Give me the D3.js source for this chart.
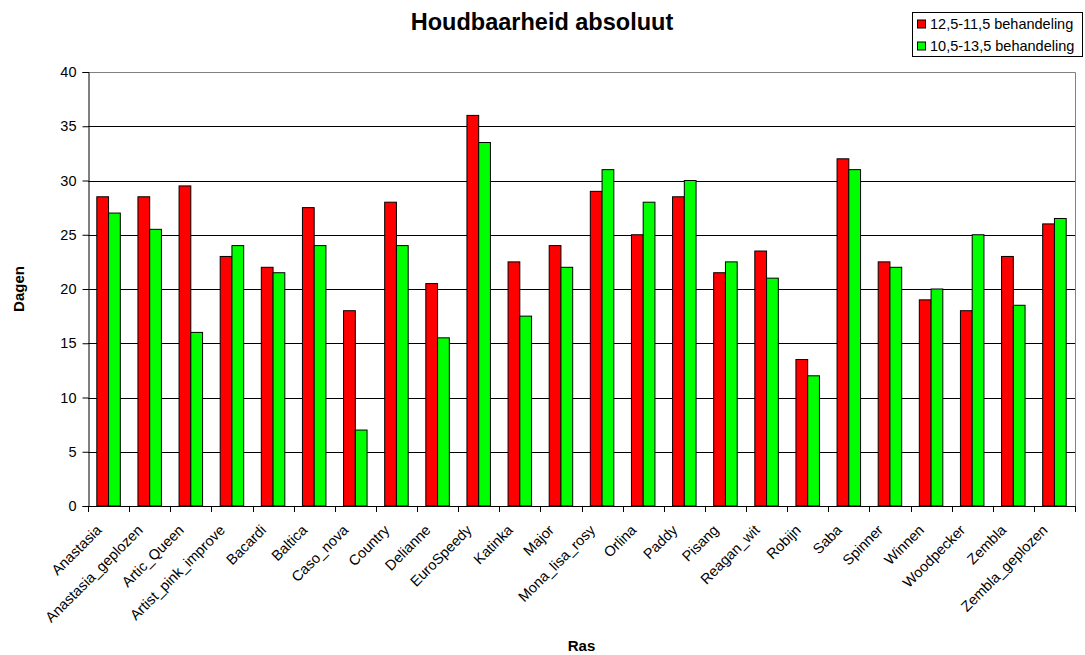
<!DOCTYPE html>
<html>
<head>
<meta charset="utf-8">
<script src="https://cdn.jsdelivr.net/npm/d3@7"></script>
<style>
  html, body { margin: 0; padding: 0; background: #fff; }
  svg { display: block; font-family: "Liberation Sans", Arial, sans-serif; }
</style>
</head>
<body>
<svg id="chart" width="1085" height="655"></svg>
<script>
// Shelf life per variety for the two treatments
const categories = [
  "Anastasia", "Anastasia_geplozen", "Artic_Queen", "Artist_pink_improve", "Bacardi",
  "Baltica", "Caso_nova", "Country", "Delianne", "EuroSpeedy", "Katinka", "Major",
  "Mona_lisa_rosy", "Orlina", "Paddy", "Pisang", "Reagan_wit", "Robijn", "Saba",
  "Spinner", "Winnen", "Woodpecker", "Zembla", "Zembla_geplozen"
];
const seriesNames = ["12,5-11,5 behandeling", "10,5-13,5 behandeling"];
const treatmentA = [28.5, 28.5, 29.5, 23, 22, 27.5, 18, 28, 20.5, 36, 22.5, 24,
                    29, 25, 28.5, 21.5, 23.5, 13.5, 32, 22.5, 19, 18, 23, 26];
const treatmentB = [27, 25.5, 16, 24, 21.5, 24, 7, 24, 15.5, 33.5, 17.5, 22,
                    31, 28, 30, 22.5, 21, 12, 31, 22, 20, 25, 18.5, 26.5];
const yTicks = [0, 5, 10, 15, 20, 25, 30, 35, 40];
const colors = ["#ff0000", "#00ff00"];

const svg = d3.select("#chart");
const plot = { left: 88, right: 1075, top: 72, bottom: 506 };
const labelSize = 14.5;

const x = d3.scaleBand().domain(categories).range([plot.left, plot.right]).paddingInner(0).paddingOuter(0);
const groupW = x.bandwidth() * 2 / 3.5;
const x1 = d3.scaleBand().domain([0, 1]).range([0, groupW]);
const y = d3.scaleLinear().domain([0, 40]).range([plot.bottom, plot.top]);

// Gridlines
svg.append("g")
  .selectAll("line")
  .data(yTicks.filter(d => d > 0 && d < 40))
  .join("line")
  .attr("x1", plot.left).attr("x2", plot.right)
  .attr("y1", d => Math.round(y(d)) + 0.5).attr("y2", d => Math.round(y(d)) + 0.5)
  .attr("stroke", "#000").attr("stroke-width", 1);

// Plot-area frame (top and right)
svg.append("path")
  .attr("d", `M${plot.left},${Math.round(y(40)) + 0.5}H${plot.right + 0.5}V${plot.bottom}`)
  .attr("fill", "none").attr("stroke", "#808080").attr("stroke-width", 1);

// Bars
const series = [treatmentA, treatmentB];
series.forEach((vals, si) => {
  svg.append("g")
    .selectAll("rect")
    .data(vals.map((v, i) => ({ cat: categories[i], v })))
    .join("rect")
    .attr("x", d => x(d.cat) + (x.bandwidth() - groupW) / 2 + x1(si))
    .attr("width", x1.bandwidth())
    .attr("y", d => y(d.v))
    .attr("height", d => y(0) - y(d.v))
    .attr("fill", colors[si])
    .attr("stroke", "#000").attr("stroke-width", 1);
});

// Y axis
const yAxis = d3.axisLeft(y).tickValues(yTicks).tickSize(6).tickPadding(6);
const gy = svg.append("g").attr("transform", `translate(${plot.left + 0.5},0)`).call(yAxis);
gy.select(".domain").attr("stroke", "#000");
gy.selectAll(".tick line").attr("stroke", "#000");
gy.selectAll(".tick text").attr("font-size", labelSize).attr("fill", "#000")
  .attr("font-family", "Liberation Sans, Arial, sans-serif");

// X axis: baseline and ticks between categories
svg.append("line")
  .attr("x1", plot.left).attr("x2", plot.right + 0.5)
  .attr("y1", plot.bottom + 0.5).attr("y2", plot.bottom + 0.5)
  .attr("stroke", "#000");
svg.append("g")
  .selectAll("line")
  .data(d3.range(categories.length + 1))
  .join("line")
  .attr("x1", i => Math.round(plot.left + i * x.bandwidth()) + 0.5)
  .attr("x2", i => Math.round(plot.left + i * x.bandwidth()) + 0.5)
  .attr("y1", plot.bottom).attr("y2", plot.bottom + 6)
  .attr("stroke", "#000");

// Category labels, rotated
svg.append("g")
  .selectAll("text")
  .data(categories)
  .join("text")
  .attr("transform", d => `translate(${x(d) + x.bandwidth() / 2 - 6},${plot.bottom + 25}) rotate(-45)`)
  .attr("text-anchor", "end")
  .attr("font-size", labelSize)
  .attr("fill", "#000")
  .text(d => d);

// Titles
svg.append("text")
  .attr("x", 542).attr("y", 30)
  .attr("text-anchor", "middle")
  .attr("font-size", 23.5).attr("font-weight", "bold")
  .text("Houdbaarheid absoluut");

svg.append("text")
  .attr("transform", `translate(24,${(plot.top + plot.bottom) / 2}) rotate(-90)`)
  .attr("text-anchor", "middle")
  .attr("font-size", 15).attr("font-weight", "bold")
  .text("Dagen");

svg.append("text")
  .attr("x", (plot.left + plot.right) / 2).attr("y", 651)
  .attr("text-anchor", "middle")
  .attr("font-size", 15).attr("font-weight", "bold")
  .text("Ras");

// Legend
const legend = svg.append("g").attr("transform", "translate(912.5,12.5)");
legend.append("rect")
  .attr("width", 170).attr("height", 44)
  .attr("fill", "#fff").attr("stroke", "#000").attr("stroke-width", 1);
seriesNames.forEach((name, i) => {
  const row = legend.append("g").attr("transform", `translate(5,${11.5 + i * 22})`);
  row.append("rect")
    .attr("x", 0).attr("y", -4).attr("width", 8).attr("height", 8)
    .attr("fill", colors[i]).attr("stroke", "#000");
  row.append("text")
    .attr("x", 12.5).attr("y", 5)
    .attr("font-size", labelSize)
    .text(name);
});
</script>
</body>
</html>
